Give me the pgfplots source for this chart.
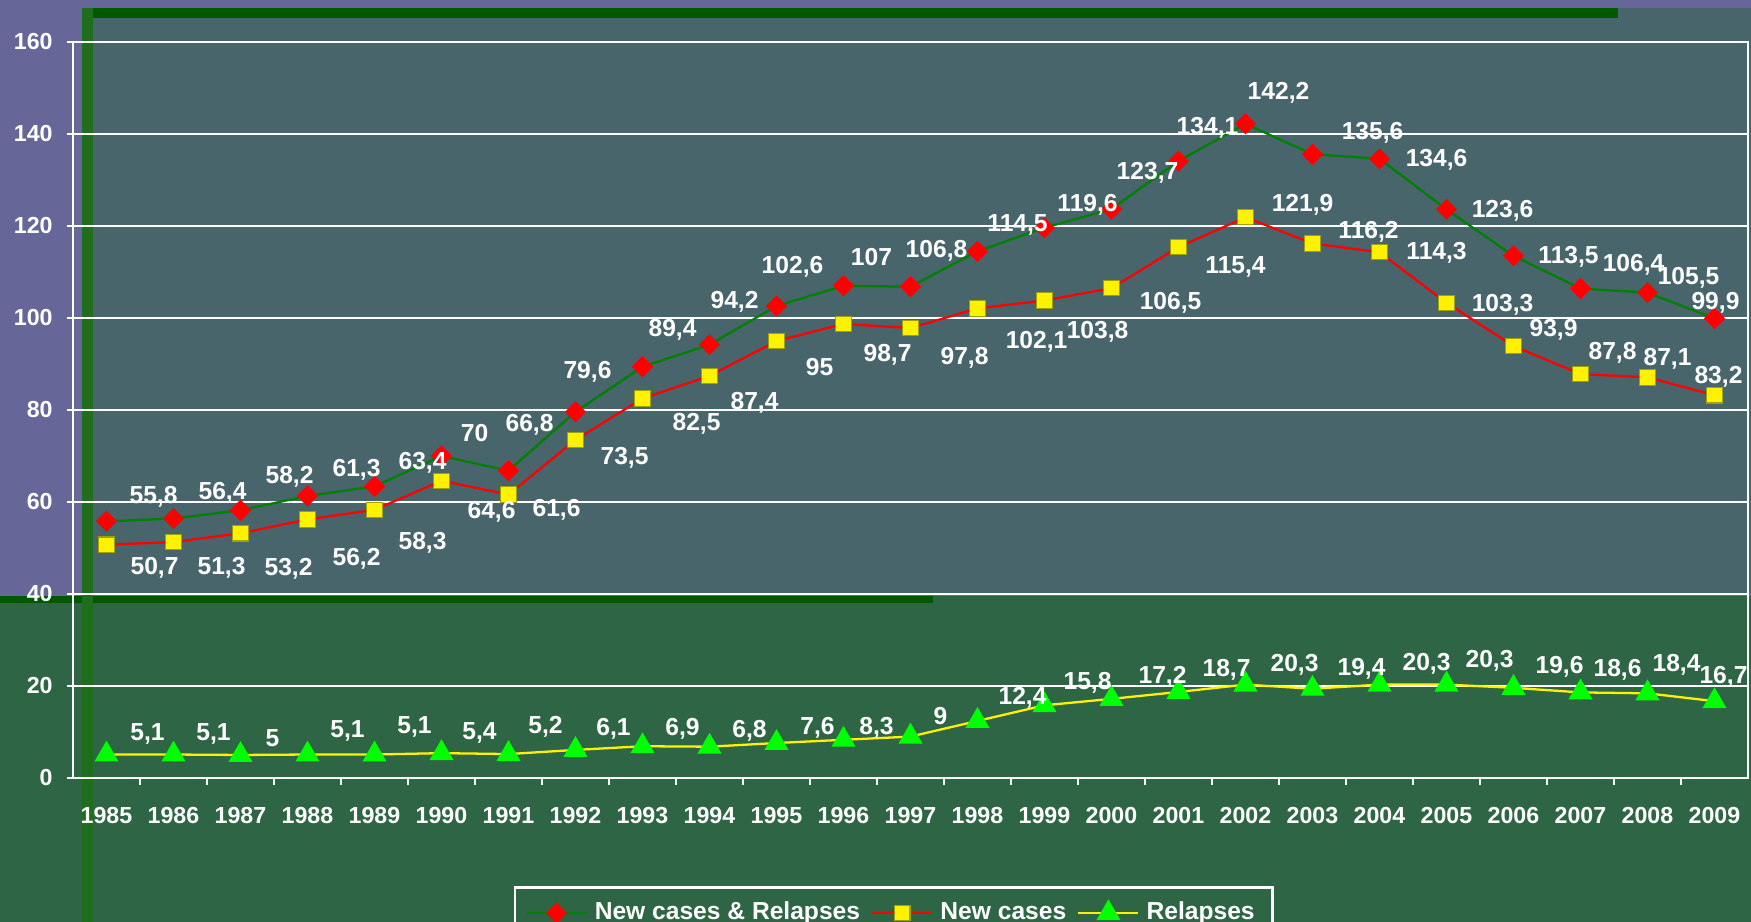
\documentclass[border=0pt]{standalone}
\usepackage{fontspec}
\setmainfont{Liberation Sans}
\usepackage{pgfplots}
\usepackage{pgfplotstable}
\pgfplotsset{compat=1.18}

\definecolor{slate}{RGB}{102,102,153}
\definecolor{patup}{RGB}{72,101,108}
\definecolor{patlow}{RGB}{46,101,69}
\definecolor{darkbar}{RGB}{0,88,0}
\definecolor{strip}{RGB}{30,110,30}
\definecolor{linegreen}{RGB}{0,128,0}
\definecolor{markgreen}{RGB}{0,255,0}

% x = year index (0 = 1985), dx/dy = label offset in px (screen, y down)
\pgfplotstableread{
x y dx dy
0 55.8 47 -24
1 56.4 49 -26
2 58.2 49 -33
3 61.3 49 -26
4 63.4 48 -24
5 70 33 -23
6 66.8 21 -46
7 79.6 12 -40
8 89.4 30 -37
9 94.2 25 -43
10 102.6 16 -39
11 107 28 -29
12 106.8 26 -36
13 114.5 40 -26
14 119.6 43 -23
15 123.7 36 -36
16 134.1 29 -33
17 142.2 33 -31
18 135.6 60 -21
19 134.6 57 1
20 123.6 56 1
21 113.5 55 1
22 106.4 53 -24
23 105.5 41 -15
24 99.9 1 -16
}\tabTotal

\pgfplotstableread{
x y dx dy
0 50.7 48 23
1 51.3 48 26
2 53.2 48 36
3 56.2 49 39
4 58.3 48 33
5 64.6 50 31
6 61.6 48 15
7 73.5 49 18
8 82.5 54 25
9 87.4 45 27
10 95 43 26
11 98.7 44 31
12 97.8 54 30
13 102.1 59 33
14 103.8 53 31
15 106.5 59 15
16 115.4 57 20
17 121.9 57 -12
18 116.2 56 -12
19 114.3 57 1
20 103.3 56 2
21 93.9 40 -16
22 87.8 32 -21
23 87.1 20 -19
24 83.2 4 -18
}\tabNew

\pgfplotstableread{
x y dx dy
0 5.1 41 -21
1 5.1 40 -21
2 5 32 -17
3 5.1 40 -24
4 5.1 40 -28
5 5.4 38 -20
6 5.2 37 -27
7 6.1 38 -21
8 6.9 40 -17
9 6.8 40 -16
10 7.6 41 -15
11 8.3 33 -12
12 9 30 -21
13 12.4 45 -23
14 15.8 43 -22
15 17.2 51 -22
16 18.7 48 -22
17 20.3 49 -20
18 19.4 49 -20
19 20.3 47 -21
20 20.3 43 -24
21 19.6 46 -21
22 18.6 37 -23
23 18.4 29 -29
24 16.7 9 -24
}\tabRel

% value labels: placed at the point shifted by (dx,dy) px; 66.95 px per year, 4.6 px per unit
\pgfplotsset{
  valuelabels/.style={
    draw=none, no markers, forget plot,
    nodes near coords, point meta=explicit,
    every node near coord/.append style={anchor=center, inner sep=0pt,
      text=white, font=\bfseries\fontsize{7}{8}\selectfont},
  },
}

\begin{document}
\begin{tikzpicture}
\path[use as bounding box] (0,0) rectangle (175.1mm,92.2mm);
\clip (0,0) rectangle (175.1mm,92.2mm);
% background panels
\fill[slate] (0,0) rectangle (175.1mm,92.2mm);
\fill[patup] (8.2mm,32.9mm) rectangle (175.1mm,91.4mm);
\fill[patlow] (0,0) rectangle (175.1mm,32.6mm);
\fill[darkbar] (0,31.9mm) rectangle (93.3mm,32.6mm);
\fill[darkbar] (8.2mm,90.4mm) rectangle (161.8mm,91.4mm);
\fill[strip] (8.2mm,0) rectangle (9.3mm,91.4mm);

\begin{axis}[
  at={(7.3mm,14.4mm)}, anchor=south west,
  scale only axis, width=167.5mm, height=73.6mm,
  xmin=-0.5, xmax=24.5, ymin=0, ymax=160,
  xtick={0,...,24},
  xticklabels={1985,1986,1987,1988,1989,1990,1991,1992,1993,1994,1995,1996,1997,1998,1999,2000,2001,2002,2003,2004,2005,2006,2007,2008,2009},
  minor xtick={0.5,1.5,...,23.5},
  every major x tick/.style={draw=none},
  ytick={0,20,...,160},
  ymajorgrids,
  grid style={white, line width=0.6pt},
  tick pos=left,
  tick align=outside,
  major tick length=0.6mm, minor tick length=0.7mm,
  tick style={white, line width=0.6pt},
  axis line style={white, line width=0.6pt},
  ticklabel style={text=white, font=\bfseries\fontsize{6.6}{8}\selectfont},
  /pgf/number format/assume math mode=true,
  /pgf/number format/use comma,
  /pgf/number format/1000 sep={},
  yticklabel style={xshift=-0.2mm},
  xticklabel style={yshift=-1.1mm},
  clip=false,
  legend columns=3,
  legend style={at={(0.263,-0.147)}, anchor=north west, fill=none,
    draw=white, line width=0.8pt, text=white,
    font=\bfseries\fontsize{7}{8}\selectfont,
    /tikz/every even column/.append style={column sep=0.4mm}},
  legend image code/.code={\draw[mark repeat=2,mark phase=2,#1] plot coordinates {(0cm,0cm) (0.3cm,0cm) (0.6cm,0cm)};},
]
\addplot[linegreen, line width=0.65pt, mark=square*, mark size=1.8pt,
  mark options={rotate=45, fill=red, draw=red, solid}]
  table[x=x, y=y] {\tabTotal};
\addlegendentry{New cases \& Relapses}
\addplot[red, line width=0.65pt, mark=square*, mark size=2.2pt,
  mark options={fill=yellow, draw={rgb,255:red,160;green,160;blue,0}, line width=0.3pt, solid}]
  table[x=x, y=y] {\tabNew};
\addlegendentry{New cases}
\addplot[yellow, line width=0.65pt, mark=triangle*, mark size=3.3pt,
  mark options={fill=markgreen, draw=markgreen, solid}]
  table[x=x, y=y] {\tabRel};
\addlegendentry{Relapses}

\addplot[valuelabels] table[x expr=\thisrow{x}+\thisrow{dx}/66.95, y expr=\thisrow{y}-\thisrow{dy}/4.6, meta=y] {\tabTotal};
\addplot[valuelabels] table[x expr=\thisrow{x}+\thisrow{dx}/66.95, y expr=\thisrow{y}-\thisrow{dy}/4.6, meta=y] {\tabNew};
\addplot[valuelabels] table[x expr=\thisrow{x}+\thisrow{dx}/66.95, y expr=\thisrow{y}-\thisrow{dy}/4.6, meta=y] {\tabRel};
\end{axis}
\end{tikzpicture}
\end{document}
